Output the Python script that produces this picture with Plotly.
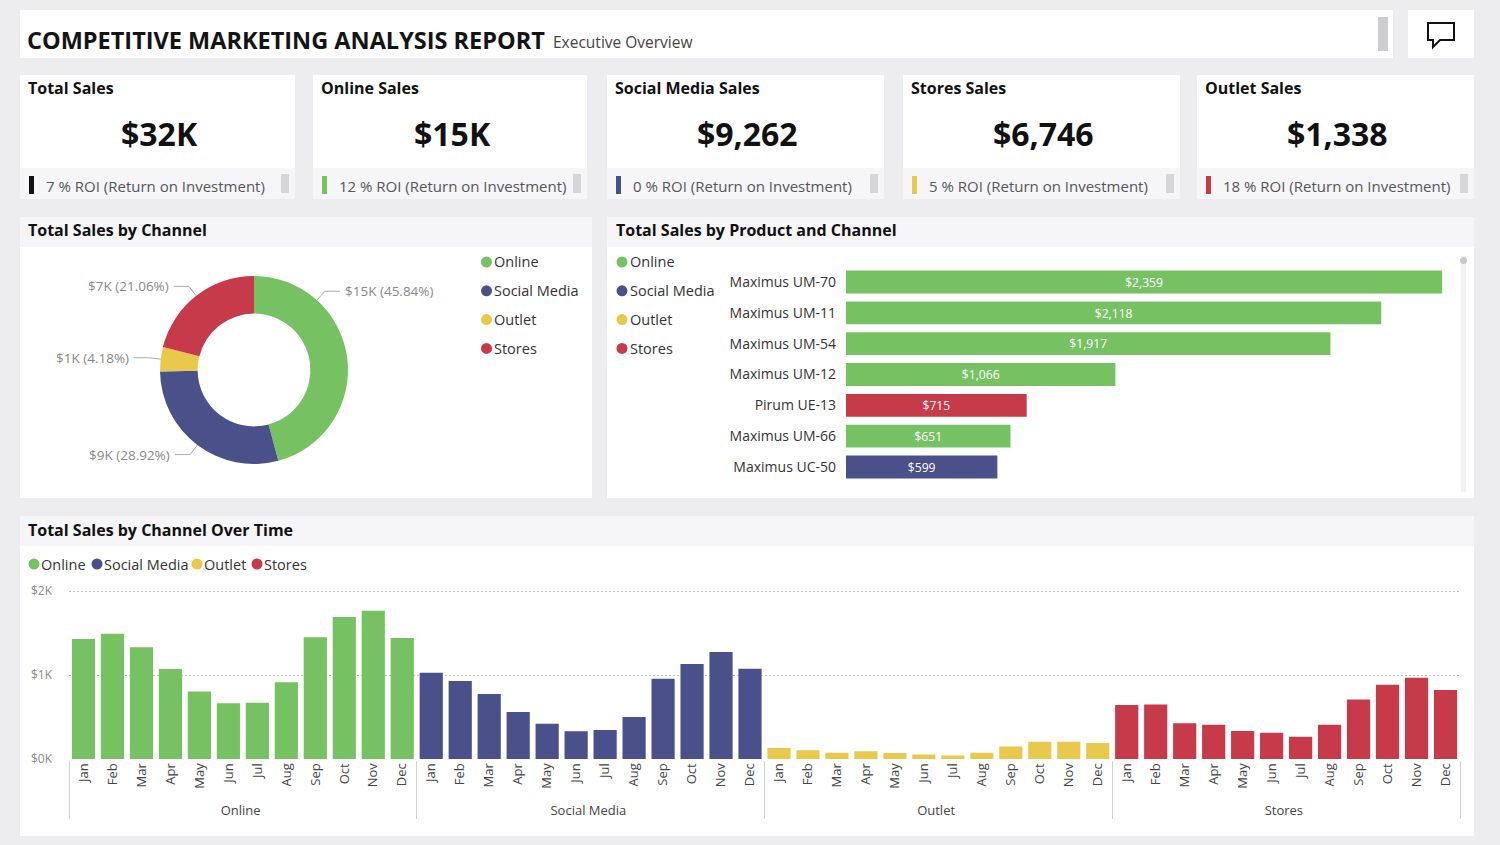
import math
import plotly.graph_objects as go

W, H = 1500, 845
FONT = "Segoe UI, Open Sans, Noto Sans, sans-serif"

# ---------------- data ----------------
channels = ["Online", "Social Media", "Outlet", "Stores"]
channel_colors = ["#76C263", "#4A5089", "#E8C94B", "#C73A4A"]
channel_totals = [14681, 9262, 1338, 6746]

kpi_titles = ["Total Sales", "Online Sales", "Social Media Sales", "Stores Sales", "Outlet Sales"]
kpi_sales = [32027, 14681, 9262, 6746, 1338]
kpi_roi = [7, 12, 0, 5, 18]
kpi_marker_colors = ["#111111", "#76C263", "#4A5089", "#E8C94B", "#C73A4A"]

products = ["Maximus UM-70", "Maximus UM-11", "Maximus UM-54", "Maximus UM-12",
            "Pirum UE-13", "Maximus UM-66", "Maximus UC-50"]
product_sales = [2359, 2118, 1917, 1066, 715, 651, 599]
product_channel = ["Online", "Online", "Online", "Online", "Stores", "Online", "Social Media"]

months = ["Jan", "Feb", "Mar", "Apr", "May", "Jun", "Jul", "Aug", "Sep", "Oct", "Nov", "Dec"]
online_monthly = [1430, 1490, 1330, 1070, 805, 665, 670, 915, 1450, 1690, 1765, 1440]
social_monthly = [1028, 930, 775, 560, 420, 330, 345, 500, 955, 1130, 1275, 1075]
outlet_monthly = [130, 103, 75, 91, 71, 55, 43, 75, 150, 206, 206, 190]
stores_monthly = [644, 648, 427, 407, 332, 312, 265, 407, 708, 885, 968, 822]
monthly_series = [online_monthly, social_monthly, outlet_monthly, stores_monthly]

color_of = dict(zip(channels, channel_colors))


# ---------------- helpers ----------------
def px(x):
    return x / W


def py(y):
    return 1 - y / H


fig = go.Figure()


def rect(x0, y0, x1, y1, color):
    fig.add_shape(type="rect", xref="paper", yref="paper", x0=px(x0), x1=px(x1),
                  y0=py(y1), y1=py(y0), fillcolor=color, line=dict(width=0), layer="below")


def dot(cx, cy, color, d=11):
    fig.add_shape(type="circle", xref="paper", yref="paper",
                  x0=px(cx - d / 2), x1=px(cx + d / 2), y0=py(cy + d / 2), y1=py(cy - d / 2),
                  fillcolor=color, line=dict(width=0))


def text(x, y, s, size, color, bold=False, xanchor="left", yanchor="middle"):
    fig.add_annotation(x=px(x), y=py(y), xref="paper", yref="paper",
                       text=f"<b>{s}</b>" if bold else s, showarrow=False,
                       font=dict(size=size, color=color, family=FONT),
                       xanchor=xanchor, yanchor=yanchor, borderpad=0)


def fmt_kpi(v):
    return f"${round(v / 1000)}K" if v >= 10000 else f"${v:,}"


# ---------------- background cards ----------------
BG = "#EDEDF0"
rect(20, 10, 1393, 58, "white")
rect(1378, 17, 1388, 51, "#CDCDCF")
rect(1408, 10, 1474, 58, "white")
# comment icon
fig.add_shape(type="path", xref="paper", yref="paper",
              path=(f"M {px(1428)} {py(23)} L {px(1454)} {py(23)} L {px(1454)} {py(40)} "
                    f"L {px(1440)} {py(40)} L {px(1433)} {py(47)} L {px(1433)} {py(40)} "
                    f"L {px(1428)} {py(40)} Z"),
              line=dict(color="#111111", width=2), fillcolor="rgba(0,0,0,0)")

text(26, 40, "COMPETITIVE MARKETING ANALYSIS REPORT", 23.5, "#141414", bold=True)
text(552, 42, "Executive Overview", 15.5, "#444444")

# KPI cards
card_x = [(20, 295), (313, 587), (607, 884), (903, 1180), (1197, 1474)]
for (x0, x1), title, val, roi, mc in zip(card_x, kpi_titles, kpi_sales, kpi_roi, kpi_marker_colors):
    rect(x0, 75, x1, 168, "white")
    rect(x0, 168, x1, 199, "#F6F6F8")
    rect(x0 + 9, 176, x0 + 14, 194, mc)
    rect(x1 - 14, 174, x1 - 6, 193, "#D6D6D8")
    text(x0 + 7, 88, title, 16, "#111111", bold=True)
    text((x0 + x1) / 2 + 2, 134, fmt_kpi(val), 32, "#111111", bold=True, xanchor="center")
    text(x0 + 25, 186, f"{roi} % ROI (Return on Investment)", 15, "#555555")

# Panels
rect(20, 217, 592, 247, "#F6F6F8")
rect(20, 247, 592, 498, "white")
rect(607, 217, 1474, 247, "#F6F6F8")
rect(607, 247, 1474, 498, "white")
rect(20, 516, 1474, 546, "#F6F6F8")
rect(20, 546, 1474, 836, "white")
text(27, 230, "Total Sales by Channel", 16, "#111111", bold=True)
text(615, 230, "Total Sales by Product and Channel", 16, "#111111", bold=True)
text(27, 530, "Total Sales by Channel Over Time", 16, "#111111", bold=True)

# scrollbar in product panel
rect(1461, 256, 1466, 492, "#F2F2F4")
dot(1463.5, 260.5, "#C9C9CB", d=7)

# ---------------- donut ----------------
PIE_CX, PIE_CY, PIE_R = 254, 370, 94
fig.add_trace(go.Pie(
    labels=channels, values=channel_totals, hole=0.6, sort=False,
    direction="clockwise", rotation=0,
    marker=dict(colors=channel_colors, line=dict(width=0)),
    textinfo="none", showlegend=False,
    domain=dict(x=[px(PIE_CX - PIE_R), px(PIE_CX + PIE_R)],
                y=[py(PIE_CY + PIE_R), py(PIE_CY - PIE_R)]),
))

total = sum(channel_totals)
label_angle_override = {"Online": 42}
cum = 0
for ch, v in zip(channels, channel_totals):
    frac = v / total
    mid = (cum + frac / 2) * 360
    cum += frac
    ang = math.radians(label_angle_override.get(ch, mid))
    sx, sy = math.sin(ang), -math.cos(ang)
    ax, ay = PIE_CX + PIE_R * sx, PIE_CY + PIE_R * sy
    ex, ey = PIE_CX + (PIE_R + 12) * sx, PIE_CY + (PIE_R + 12) * sy
    side = 1 if sx > 0 else -1
    hx = ex + side * 15
    fig.add_shape(type="path", xref="paper", yref="paper",
                  path=f"M {px(ax)} {py(ay)} L {px(ex)} {py(ey)} L {px(hx)} {py(ey)}",
                  line=dict(color="#AAAAAA", width=1))
    lbl = f"${round(v / 1000)}K ({frac * 100:.2f}%)"
    text(hx + side * 4, ey, lbl, 13.5, "#888888", xanchor="left" if side > 0 else "right")

# vertical legends (donut + product panel)
for i, (ch, col) in enumerate(zip(channels, channel_colors)):
    yy = 262 + i * 28.8
    dot(486.5, yy, col)
    text(493, yy, ch, 14.5, "#333333")
    dot(622, yy, col)
    text(629, yy, ch, 14.5, "#333333")

# horizontal legend (time chart)
legend_x = [34, 97, 197, 257]
for lx, ch, col in zip(legend_x, channels, channel_colors):
    dot(lx, 564, col)
    text(lx + 6, 564, ch, 14.5, "#333333")

# ---------------- product bars ----------------
fig.add_trace(go.Bar(
    x=product_sales, y=products, orientation="h", xaxis="x2", yaxis="y2",
    marker=dict(color=[color_of[c] for c in product_channel], line=dict(width=0)),
    width=0.74, text=[f"${v:,}" for v in product_sales], textposition="inside",
    insidetextanchor="middle", textangle=0,
    textfont=dict(color="white", size=13, family=FONT), showlegend=False,
))

# ---------------- monthly bars ----------------
for ch, col, vals in zip(channels, channel_colors, monthly_series):
    fig.add_trace(go.Bar(
        x=[[ch] * len(months), months], y=vals, marker=dict(color=col, line=dict(width=0)),
        width=0.8, showlegend=False, name=ch, xaxis="x", yaxis="y",
    ))

Y0_PX, PX_PER_UNIT = 759, 0.084
Y_MIN, Y_MAX = -8, 2030
fig.update_layout(
    width=W, height=H, autosize=False,
    margin=dict(l=0, r=0, t=0, b=0, pad=0, autoexpand=False),
    paper_bgcolor=BG, plot_bgcolor="rgba(0,0,0,0)",
    barmode="overlay", showlegend=False,
    font=dict(family=FONT, color="#444444"),
    xaxis=dict(
        type="multicategory", domain=[px(69), px(1460)], anchor="y",
        tickangle=-90, tickfont=dict(size=13, color="#444444"),
        showdividers=True, dividercolor="#D0D0D0", dividerwidth=1,
        showgrid=False, showline=False, zeroline=False, ticks="", automargin=False,
    ),
    yaxis=dict(
        domain=[py(Y0_PX - Y_MIN * PX_PER_UNIT), py(Y0_PX - Y_MAX * PX_PER_UNIT)],
        anchor="x", range=[Y_MIN, Y_MAX],
        tickvals=[0, 1000, 2000], ticktext=["$0K", "$1K", "$2K"],
        tickfont=dict(size=12, color="#888888"), ticklabelstandoff=16,
        showgrid=True, gridcolor="#BDBDBD", griddash="1.5px,2.5px", gridwidth=1,
        zeroline=False, showline=False, ticks="", automargin=False,
    ),
    xaxis2=dict(domain=[px(846), px(1452.5)], anchor="y2", range=[0, 2400], visible=False,
                automargin=False),
    yaxis2=dict(
        domain=[py(482.4), py(266.6)], anchor="x2", type="category",
        categoryorder="array", categoryarray=products, autorange="reversed",
        tickfont=dict(size=14, color="#333333"), ticklabelstandoff=9,
        showgrid=False, showline=False, zeroline=False, ticks="", automargin=False,
    ),
)

fig.write_html(
    "out.html", config={"displayModeBar": False},
    post_script=("document.documentElement.style.margin='0';"
                 "document.body.style.margin='0';document.body.style.overflow='hidden';"),
)
